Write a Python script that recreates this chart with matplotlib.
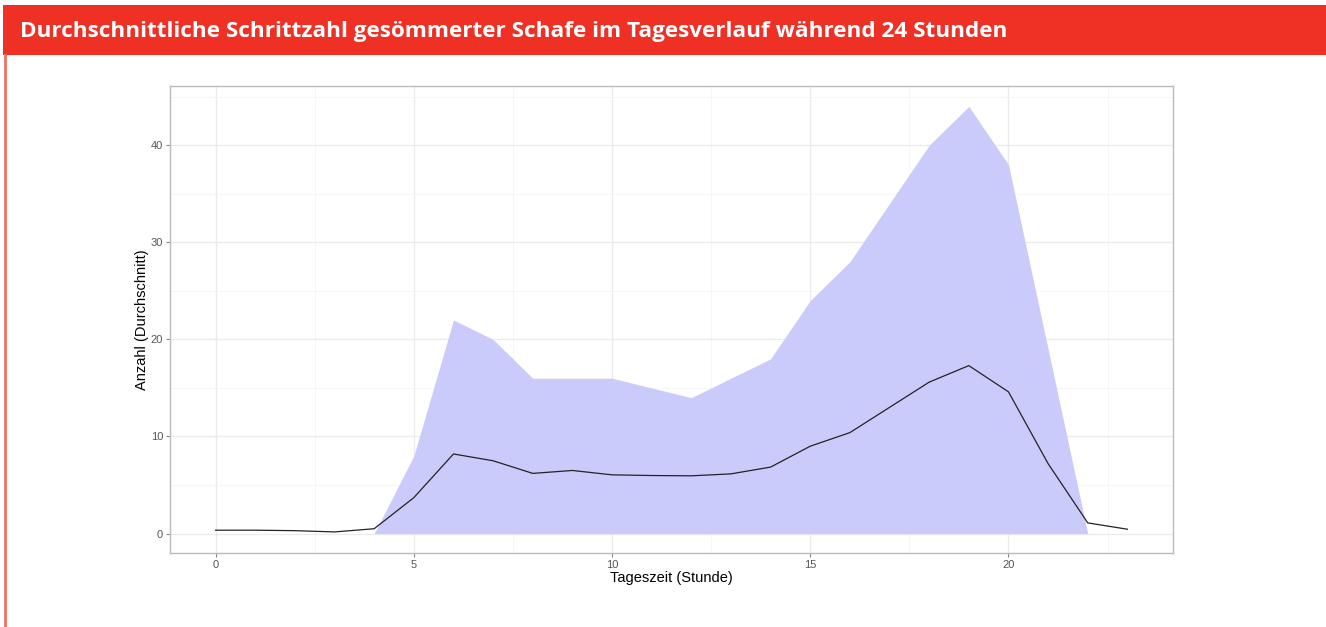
import matplotlib.pyplot as plt
from matplotlib.patches import Rectangle
from matplotlib.lines import Line2D

hours = list(range(24))
mean_steps = [0.35, 0.35, 0.3, 0.17, 0.5, 3.7, 8.2, 7.5, 6.2, 6.5, 6.05, 5.98,
              5.95, 6.15, 6.85, 9.0, 10.4, 13.0, 15.6, 17.3, 14.6, 7.2, 1.1, 0.45]

band_hours = list(range(4, 23))
band_upper = [0, 8, 22, 20, 16, 16, 16, 15, 14, 16, 18, 24, 28, 34, 40, 44, 38, 19, 0]
band_lower = [0] * len(band_hours)

title = "Durchschnittliche Schrittzahl gesömmerter Schafe im Tagesverlauf während 24 Stunden"
red = "#EE3124"

plt.rcParams['font.family'] = ['Liberation Sans', 'DejaVu Sans']

W, H = 1326, 627
fig = plt.figure(figsize=(W / 100, H / 100), dpi=100)

# red header banner and left border line
fig.patches.append(Rectangle((3 / W, 1 - 55 / H), 1, 50 / H, transform=fig.transFigure,
                             facecolor=red, edgecolor="none", zorder=0))
fig.add_artist(Line2D([5 / W, 5 / W], [0, 1 - 55 / H], transform=fig.transFigure,
                      color="#F07068", linewidth=2))
fig.text(20 / W, 1 - 32 / H, title, color="white", fontsize=16.2, fontweight="bold",
         family="Open Sans", va="center", ha="left")

ax = fig.add_axes([170 / W, 1 - 553 / H, (1173 - 170) / W, (553 - 86) / H])
ax.fill_between(band_hours, band_lower, band_upper, color="#CBCBFB", linewidth=0, zorder=2)
ax.plot(hours, mean_steps, color="#222222", linewidth=0.9, zorder=3)

ax.set_xlim(-1.15, 24.15)
ax.set_ylim(-2.0, 46.1)
ax.set_xticks([0, 5, 10, 15, 20])
ax.set_yticks([0, 10, 20, 30, 40])
ax.set_xticks([2.5, 7.5, 12.5, 17.5, 22.5], minor=True)
ax.set_yticks([5, 15, 25, 35, 45], minor=True)
ax.grid(which="major", color="#EBEBEB", linewidth=1, zorder=0)
ax.grid(which="minor", color="#F5F5F5", linewidth=0.6, zorder=0)
ax.set_axisbelow(True)
ax.tick_params(which="major", length=3, color="#888888", labelsize=8,
               labelcolor="#555555", pad=2)
ax.tick_params(which="minor", length=0)
for s in ax.spines.values():
    s.set_color("#BBBBBB")
    s.set_linewidth(1)

ax.set_xlabel("Tageszeit (Stunde)", fontsize=10.5, labelpad=1)
ax.set_ylabel("Anzahl (Durchschnitt)", fontsize=10.5, labelpad=1)

fig.savefig("out.png", dpi=100)
